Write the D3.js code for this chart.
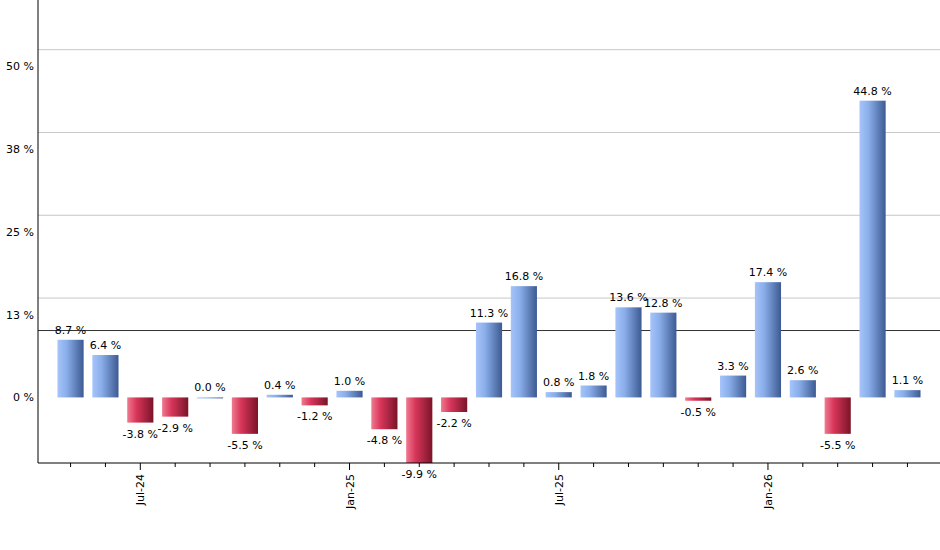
<!DOCTYPE html><html><head><meta charset="utf-8"><script src="https://cdn.jsdelivr.net/npm/d3@7"></script>
<style>body{margin:0;background:#fff}text{font-family:"DejaVu Sans",sans-serif;font-size:11px;fill:#000}</style></head><body><svg id="c" width="940" height="550"></svg><script>
const months=["May-24","Jun-24","Jul-24","Aug-24","Sep-24","Oct-24","Nov-24","Dec-24","Jan-25","Feb-25","Mar-25","Apr-25","May-25","Jun-25","Jul-25","Aug-25","Sep-25","Oct-25","Nov-25","Dec-25","Jan-26","Feb-26","Mar-26","Apr-26","May-26"];
const values=[8.7,6.4,-3.8,-2.9,0.0,-5.5,0.4,-1.2,1.0,-4.8,-9.9,-2.2,11.3,16.8,0.8,1.8,13.6,12.8,-0.5,3.3,17.4,2.6,-5.5,44.8,1.1];
const tickVals=[0,12.5,25,37.5,50];
const tickLabels=["0 %","13 %","25 %","38 %","50 %"];
const gridVals=[15,27.5,40,52.5];
const avgLine=10.1;
const shownMonths=["Jul-24","Jan-25","Jul-25","Jan-26"];
const svg=d3.select("#c");
const y=d3.scaleLinear().domain([-9.9,60]).range([463,0]);
const x=d3.scaleBand().domain(months).range([54,924]).paddingInner(0.25).paddingOuter(0.1);
const defs=svg.append("defs");
function grad(id,c1,c2,c3){const g=defs.append("linearGradient").attr("id",id);g.append("stop").attr("offset","0%").attr("stop-color",c1);g.append("stop").attr("offset","35%").attr("stop-color",c2);g.append("stop").attr("offset","100%").attr("stop-color",c3);}
grad("gb","#a6c4fa","#8aaeea","#3d5a92");grad("gr","#f07a90","#d8365a","#7a1428");
svg.selectAll(".g").data(gridVals).join("line").attr("x1",38).attr("x2",940).attr("y1",d=>y(d)).attr("y2",d=>y(d)).attr("stroke","#c8c8c8");
svg.append("line").attr("x1",38).attr("x2",940).attr("y1",y(avgLine)).attr("y2",y(avgLine)).attr("stroke","#333");
svg.selectAll(".b").data(values).join("rect").attr("x",(d,i)=>x(months[i])).attr("width",x.bandwidth()).attr("y",d=>y(Math.max(0,d))).attr("height",d=>Math.max(1,Math.abs(y(d)-y(0)))).attr("fill",d=>d>=0?"url(#gb)":"url(#gr)");
svg.selectAll(".l").data(values).join("text").attr("x",(d,i)=>x(months[i])+x.bandwidth()/2).attr("y",d=>d>=0?y(d)-6:y(d)+15).attr("text-anchor","middle").text(d=>d.toFixed(1)+" %");
const ya=svg.append("g").attr("transform","translate(38,0)").call(d3.axisLeft(y).tickValues(tickVals).tickFormat((d,i)=>tickLabels[i]).tickSize(0).tickPadding(4));
ya.select(".domain").attr("d","M0,0V463").attr("stroke","#000");
ya.selectAll("text").style("font-size","11px");
svg.append("line").attr("x1",38).attr("x2",940).attr("y1",463).attr("y2",463).attr("stroke","#000");
svg.selectAll(".t").data(months).join("line").attr("x1",d=>x(d)+x.bandwidth()/2).attr("x2",d=>x(d)+x.bandwidth()/2).attr("y1",463).attr("y2",d=>shownMonths.includes(d)?470:467).attr("stroke","#000");
svg.selectAll(".xl").data(shownMonths).join("text").attr("transform",d=>`translate(${x(d)+x.bandwidth()/2+4},474) rotate(-90)`).attr("text-anchor","end").text(d=>d);
</script></body></html>
